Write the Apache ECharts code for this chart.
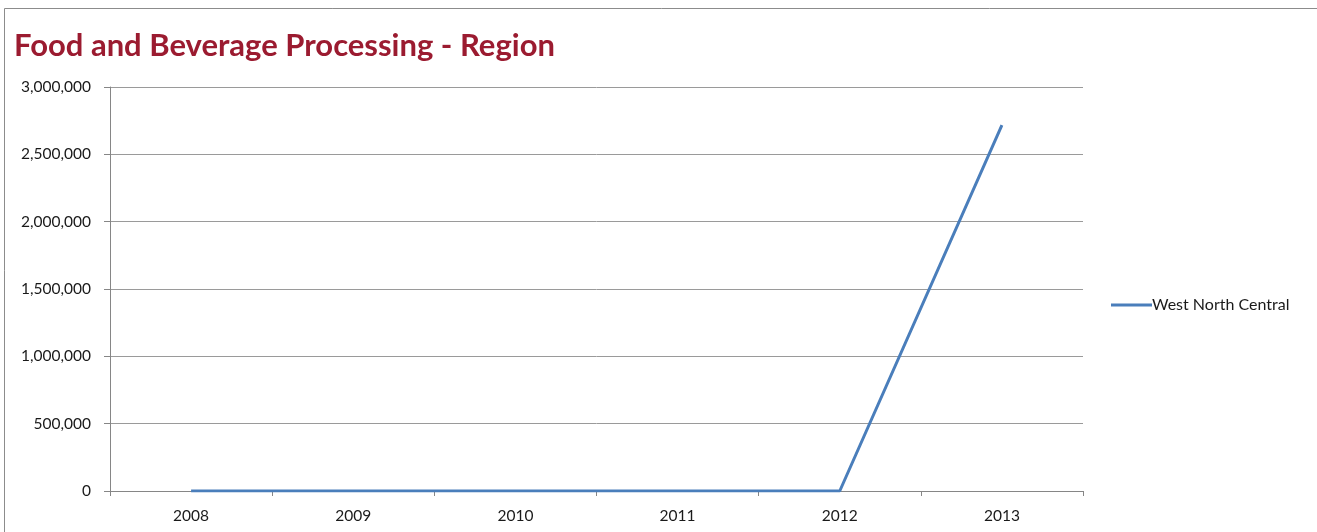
<!DOCTYPE html>
<html>
<head>
<meta charset="utf-8">
<script src="https://cdn.jsdelivr.net/npm/echarts@6/dist/echarts.min.js"></script>
<style>
  html, body { margin: 0; padding: 0; background: #ffffff; }
  #chart { width: 1317px; height: 532px; }
</style>
</head>
<body>
<div id="chart"></div>
<script>
// Years shown along the category axis
const years = ['2008', '2009', '2010', '2011', '2012', '2013'];
// Series values for the single region
const seriesName = 'West North Central';
const westNorthCentral = [0, 0, 0, 0, 0, 2717000];
// Value axis range and step
const yMin = 0;
const yMax = 3000000;
const yStep = 500000;

const chart = echarts.init(document.getElementById('chart'), null, { renderer: 'canvas' });

const labelFont = 'Lato, "Open Sans", "Noto Sans", sans-serif';

chart.setOption({
  backgroundColor: '#ffffff',
  animation: false,
  title: {
    text: 'Food and Beverage Processing - Region',
    left: 9,
    top: 25,
    textStyle: {
      color: '#9b1b30',
      fontSize: 31,
      fontWeight: 'bold',
      fontFamily: labelFont
    }
  },
  graphic: [{
    type: 'rect',
    shape: { x: 4.5, y: 8.5, width: 1400, height: 600 },
    style: { fill: 'none', stroke: '#8c8c8c', lineWidth: 1 },
    silent: true,
    z: 0
  }],
  legend: {
    data: [seriesName],
    orient: 'vertical',
    left: 1106,
    top: 292,
    itemWidth: 41,
    itemHeight: 3,
    itemGap: 4,
    icon: 'rect',
    textStyle: {
      color: '#1a1a1a',
      fontSize: 16,
      fontFamily: labelFont,
      padding: [0, 0, 0, -5]
    }
  },
  grid: {
    left: 110,
    right: 234,
    top: 87,
    bottom: 41,
    containLabel: false
  },
  xAxis: {
    type: 'category',
    data: years,
    boundaryGap: true,
    axisLine: { lineStyle: { color: '#868686', width: 1 } },
    axisTick: { show: true, alignWithLabel: false, length: 5, lineStyle: { color: '#868686' } },
    axisLabel: {
      color: '#1a1a1a',
      fontSize: 15.5,
      fontFamily: labelFont,
      margin: 17
    },
    splitLine: { show: false }
  },
  yAxis: {
    type: 'value',
    min: yMin,
    max: yMax,
    interval: yStep,
    axisLine: { show: true, lineStyle: { color: '#868686', width: 1 } },
    axisTick: { show: true, length: 6, lineStyle: { color: '#868686' } },
    axisLabel: {
      color: '#1a1a1a',
      fontSize: 15.5,
      fontFamily: labelFont,
      margin: 19,
      formatter: v => v.toLocaleString('en-US')
    },
    splitLine: { show: true, lineStyle: { color: '#9a9a9a', width: 1 } }
  },
  series: [{
    name: seriesName,
    type: 'line',
    data: westNorthCentral,
    symbol: 'none',
    lineStyle: { color: '#4a7ebb', width: 3 },
    itemStyle: { color: '#4a7ebb' }
  }]
});
</script>
</body>
</html>
